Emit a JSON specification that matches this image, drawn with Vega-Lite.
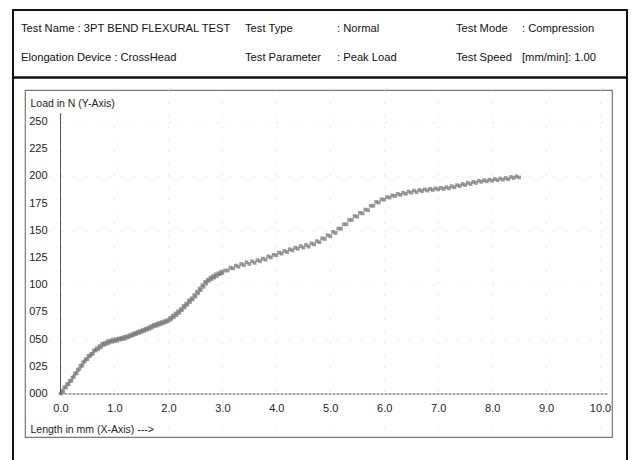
{
  "$schema": "https://vega.github.io/schema/vega-lite/v6.json",
  "width": 587,
  "height": 347,
  "autosize": {"type": "none"},
  "padding": {"left": 25, "top": 90, "right": 20, "bottom": 23},
  "background": "white",
  "config": {"font": "Liberation Sans", "view": {"stroke": "#777", "strokeWidth": 1.2}},
  "datasets": {
    "curve": [
      {"x":0.00,"y":0.5},{"x":0.03,"y":3},{"x":0.05,"y":2},{"x":0.07,"y":6},{"x":0.10,"y":6},{"x":0.12,"y":9},{"x":0.15,"y":9},{"x":0.17,"y":12},{"x":0.20,"y":12},{"x":0.22,"y":15},
      {"x":0.25,"y":16},{"x":0.27,"y":19},{"x":0.30,"y":19},{"x":0.32,"y":22},{"x":0.35,"y":23},{"x":0.37,"y":26},{"x":0.40,"y":26},{"x":0.42,"y":29},{"x":0.45,"y":30},{"x":0.47,"y":32},
      {"x":0.50,"y":32},{"x":0.52,"y":35},{"x":0.55,"y":35},{"x":0.57,"y":37},{"x":0.60,"y":37},{"x":0.62,"y":40},{"x":0.65,"y":40},{"x":0.67,"y":42},{"x":0.70,"y":41},{"x":0.72,"y":44},
      {"x":0.75,"y":43},{"x":0.77,"y":46},{"x":0.80,"y":45},{"x":0.82,"y":47},{"x":0.85,"y":46},{"x":0.87,"y":48.5},{"x":0.90,"y":47},{"x":0.92,"y":49},{"x":0.95,"y":48},{"x":0.97,"y":50},
      {"x":1.00,"y":48.5},{"x":1.03,"y":50.5},{"x":1.05,"y":49},{"x":1.08,"y":51},{"x":1.10,"y":50},{"x":1.13,"y":51.5},{"x":1.15,"y":50.5},{"x":1.18,"y":52.5},{"x":1.20,"y":51},{"x":1.23,"y":53},
      {"x":1.25,"y":52},{"x":1.28,"y":54},{"x":1.30,"y":53},{"x":1.33,"y":55},{"x":1.35,"y":54},{"x":1.38,"y":56},{"x":1.40,"y":55},{"x":1.43,"y":57},{"x":1.45,"y":56},{"x":1.48,"y":58},
      {"x":1.50,"y":57},{"x":1.53,"y":59},{"x":1.55,"y":58},{"x":1.58,"y":60},{"x":1.60,"y":59},{"x":1.63,"y":61},{"x":1.65,"y":60},{"x":1.68,"y":62.5},{"x":1.70,"y":61},{"x":1.73,"y":63.5},
      {"x":1.75,"y":62.5},{"x":1.78,"y":64.5},{"x":1.80,"y":63},{"x":1.83,"y":65.5},{"x":1.85,"y":64},{"x":1.88,"y":66},{"x":1.90,"y":65},{"x":1.93,"y":67},{"x":1.95,"y":66},{"x":1.98,"y":68},
      {"x":2.00,"y":67},{"x":2.03,"y":70},{"x":2.05,"y":68.5},{"x":2.08,"y":72},{"x":2.10,"y":70.5},{"x":2.13,"y":74},{"x":2.15,"y":72.5},{"x":2.18,"y":76},{"x":2.20,"y":74.5},{"x":2.23,"y":78},
      {"x":2.25,"y":77},{"x":2.28,"y":81},{"x":2.30,"y":79.5},{"x":2.33,"y":83},{"x":2.35,"y":82},{"x":2.38,"y":86},{"x":2.40,"y":84.5},{"x":2.43,"y":88},{"x":2.45,"y":87},{"x":2.48,"y":91},
      {"x":2.50,"y":89.5},{"x":2.53,"y":94},{"x":2.55,"y":92.5},{"x":2.58,"y":97},{"x":2.60,"y":95.5},{"x":2.63,"y":100},{"x":2.65,"y":98.5},{"x":2.68,"y":103},{"x":2.70,"y":101.5},{"x":2.73,"y":105},
      {"x":2.75,"y":104},{"x":2.78,"y":107},{"x":2.80,"y":105.5},{"x":2.83,"y":108.5},{"x":2.85,"y":107},{"x":2.88,"y":110},{"x":2.90,"y":108.5},{"x":2.93,"y":111},{"x":2.95,"y":110},{"x":2.98,"y":112.5},
      {"x":3.00,"y":111},{"x":3.05,"y":113.5},{"x":3.10,"y":113.5},{"x":3.15,"y":116},{"x":3.20,"y":115.5},{"x":3.25,"y":118},{"x":3.30,"y":117},{"x":3.35,"y":119.5},{"x":3.40,"y":118.5},{"x":3.45,"y":121},
      {"x":3.50,"y":119.5},{"x":3.55,"y":122},{"x":3.60,"y":120.5},{"x":3.65,"y":123},{"x":3.70,"y":122},{"x":3.75,"y":124.5},{"x":3.80,"y":123.5},{"x":3.85,"y":126.5},{"x":3.90,"y":125.5},{"x":3.95,"y":128},
      {"x":4.00,"y":127.5},{"x":4.05,"y":130},{"x":4.10,"y":129},{"x":4.15,"y":131.5},{"x":4.20,"y":130.5},{"x":4.25,"y":133},{"x":4.30,"y":132},{"x":4.35,"y":134.5},{"x":4.40,"y":133.5},{"x":4.45,"y":136},
      {"x":4.50,"y":134.5},{"x":4.55,"y":137},{"x":4.60,"y":135.5},{"x":4.65,"y":138.5},{"x":4.70,"y":137.5},{"x":4.75,"y":140.5},{"x":4.80,"y":139.5},{"x":4.85,"y":143},{"x":4.90,"y":142.5},{"x":4.95,"y":146},
      {"x":5.00,"y":145},{"x":5.05,"y":149},{"x":5.10,"y":148},{"x":5.15,"y":152},{"x":5.20,"y":152},{"x":5.25,"y":156},{"x":5.30,"y":156},{"x":5.35,"y":160},{"x":5.40,"y":160},{"x":5.45,"y":163.5},
      {"x":5.50,"y":163},{"x":5.55,"y":166.5},{"x":5.60,"y":166},{"x":5.65,"y":169.5},{"x":5.70,"y":169},{"x":5.75,"y":173},{"x":5.80,"y":173},{"x":5.85,"y":176.5},{"x":5.90,"y":176},{"x":5.95,"y":179},
      {"x":6.00,"y":178.5},{"x":6.05,"y":181},{"x":6.10,"y":180.5},{"x":6.15,"y":182.5},{"x":6.20,"y":182},{"x":6.25,"y":184},{"x":6.30,"y":183},{"x":6.35,"y":185},{"x":6.40,"y":184},{"x":6.45,"y":186},
      {"x":6.50,"y":185},{"x":6.55,"y":187},{"x":6.60,"y":185.5},{"x":6.65,"y":187.5},{"x":6.70,"y":186.5},{"x":6.75,"y":188},{"x":6.80,"y":187},{"x":6.85,"y":188.5},{"x":6.90,"y":187.5},{"x":6.95,"y":189},
      {"x":7.00,"y":188},{"x":7.05,"y":189.5},{"x":7.10,"y":188.5},{"x":7.15,"y":190},{"x":7.20,"y":189},{"x":7.25,"y":191},{"x":7.30,"y":190},{"x":7.35,"y":192},{"x":7.40,"y":191},{"x":7.45,"y":193},
      {"x":7.50,"y":192},{"x":7.55,"y":194},{"x":7.60,"y":193},{"x":7.65,"y":195},{"x":7.70,"y":194},{"x":7.75,"y":196},{"x":7.80,"y":195},{"x":7.85,"y":196.5},{"x":7.90,"y":195.5},{"x":7.95,"y":197},
      {"x":8.00,"y":196},{"x":8.05,"y":197.5},{"x":8.10,"y":196.5},{"x":8.15,"y":198},{"x":8.20,"y":197},{"x":8.25,"y":198.5},{"x":8.30,"y":197.5},{"x":8.35,"y":199.5},{"x":8.40,"y":198.5},{"x":8.45,"y":200},
      {"x":8.50,"y":199}
    ],
    "header": [
      {"row":1,"col":1,"text":"Test Name : 3PT BEND FLEXURAL TEST"},
      {"row":1,"col":2,"text":"Test Type"},
      {"row":1,"col":3,"text":": Normal"},
      {"row":1,"col":4,"text":"Test Mode"},
      {"row":1,"col":5,"text":": Compression"},
      {"row":2,"col":1,"text":"Elongation Device : CrossHead"},
      {"row":2,"col":2,"text":"Test Parameter"},
      {"row":2,"col":3,"text":": Peak Load"},
      {"row":2,"col":4,"text":"Test Speed"},
      {"row":2,"col":5,"text":"[mm/min]: 1.00"}
    ],
    "yticks": [
      {"v":0},{"v":25},{"v":50},{"v":75},{"v":100},{"v":125},{"v":150},{"v":175},{"v":200},{"v":225},{"v":250}
    ]
  },
  "layer": [
    {
      "layer": [
        {
          "data": {"name": "curve"},
          "mark": {"type": "point", "shape": "square", "size": 14, "filled": true, "color": "#7a7a7a", "opacity": 0.75},
          "encoding": {
            "x": {"field": "x", "type": "quantitative",
              "scale": {"domain": [-0.658, 10.222], "nice": false, "zero": false},
              "axis": {"orient": "bottom", "offset": -43, "domain": false, "ticks": false,
                "values": [0,1,2,3,4,5,6,7,8,9,10], "format": ".1f", "labelOverlap": false,
                "labelFontSize": 11, "labelColor": "#222", "labelPadding": 8,
                "grid": true, "gridColor": "#d4d4d4", "gridDash": [1, 11],
                "title": "Length in mm (X-Axis) --->", "titleFontSize": 10.5, "titleFontWeight": "normal", "titleColor": "#222",
                "titleAlign": "left", "titleAnchor": "start", "titleBaseline": "middle", "titleX": 5, "titleY": 35}},
            "y": {"field": "y", "type": "quantitative",
              "scale": {"domain": [-39.52, 279.4], "nice": false, "zero": false},
              "axis": {"orient": "left", "offset": -36, "domain": false, "ticks": false, "labels": false,
                "grid": true, "gridColor": "#d4d4d4", "gridDash": [1, 11],
                "title": "Load in N (Y-Axis)", "titleFontSize": 10.5, "titleFontWeight": "normal", "titleColor": "#222",
                "titleAngle": 0, "titleAlign": "left", "titleBaseline": "middle", "titleX": -31, "titleY": 13}}
          }
        },
        {
          "data": {"values": [{}]},
          "mark": {"type": "rule", "stroke": "#555", "strokeWidth": 1},
          "encoding": {"x": {"datum": 0}, "y": {"datum": 0}, "y2": {"datum": 258}}
        },
        {
          "data": {"values": [{}]},
          "mark": {"type": "rule", "stroke": "#555", "strokeWidth": 1, "strokeDash": [3, 1]},
          "encoding": {"x": {"datum": 0}, "x2": {"datum": 10.15}, "y": {"datum": 0}}
        },
        {
          "data": {"values": [{}]},
          "mark": {"type": "rect", "fill": null, "stroke": "#111", "strokeWidth": 2},
          "encoding": {"x": {"datum": -0.88}, "x2": {"datum": 10.5}, "y": {"datum": 352.9}, "y2": {"datum": -75}}
        },
        {
          "data": {"values": [{}]},
          "mark": {"type": "rule", "stroke": "#111", "strokeWidth": 2.5},
          "encoding": {"x": {"datum": -0.88}, "x2": {"datum": 10.5}, "y": {"datum": 290.9}}
        },
        {
          "data": {"name": "yticks"},
          "mark": {"type": "text", "align": "right", "baseline": "middle", "fontSize": 11, "color": "#222", "dx": -13},
          "encoding": {
            "x": {"datum": 0},
            "y": {"field": "v", "type": "quantitative"},
            "text": {"field": "v", "type": "quantitative", "format": "03d"}
          }
        }
      ]
    },
    {
      "data": {"name": "header"},
      "mark": {"type": "text", "align": "left", "baseline": "middle", "fontSize": 11.2, "color": "#111"},
      "encoding": {
        "x": {"field": "col", "type": "quantitative", "scale": {"domain": [1,2,3,4,5], "range": [-4,220,312,431,497], "nice": false, "zero": false}, "axis": null},
        "y": {"field": "row", "type": "quantitative", "scale": {"domain": [1,2], "range": [-61,-32], "nice": false, "zero": false}, "axis": null},
        "text": {"field": "text"}
      }
    }
  ],
  "resolve": {"scale": {"x": "independent", "y": "independent"}}
}
